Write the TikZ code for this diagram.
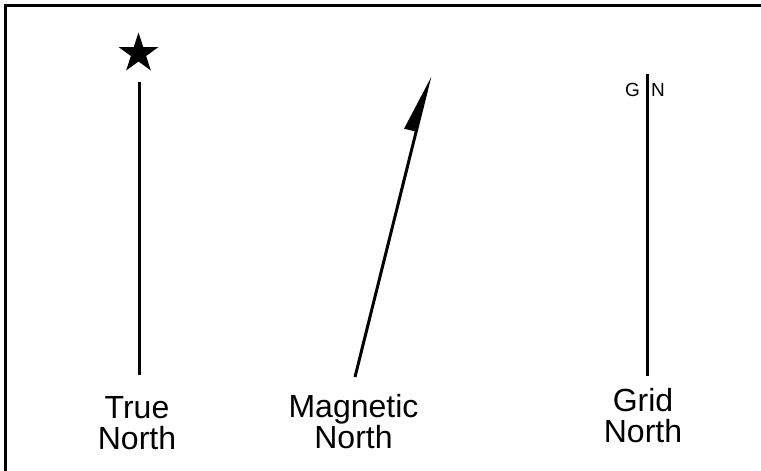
\documentclass[tikz,border=0pt]{standalone}
\usepackage{fontspec}
\setmainfont{Liberation Sans}
\usetikzlibrary{shapes.geometric, arrows.meta, positioning}

\begin{document}
\begin{tikzpicture}[
    x=1pt, y=-1pt,
    north_line/.style={line width=3pt, black},
    frame_line/.style={line width=3.2pt, black},
    label_node/.style={inner sep=0pt, align=center, anchor=north, font=\fontsize{32}{31}\selectfont},
    gn_node/.style={inner sep=0pt, font=\fontsize{19}{19}\selectfont},
    star_node/.style={star, star points=5, star point ratio=2.618, fill=black, minimum size=42pt, inner sep=0pt}
]
\useasboundingbox (0,0) rectangle (761,471);

% --- Frame ---
\draw[frame_line] (5.3,471) -- (5.3,5.8) -- (761,5.8);

% --- True North ---
\node[star_node] (star) at (138.5,53.5) {};
\coordinate (true_bot) at (139,375);
\coordinate (true_top) at (139,82);
\draw[north_line] (true_bot) -- (true_top);
\node[label_node] (true_label) at (137,396) {True\\North};

% --- Magnetic North ---
\coordinate (mag_bot) at (355,377);
\coordinate (mag_tip) at (430,76);
\draw[north_line, -{Triangle[left, length=51pt, width=24pt]}] (mag_bot) -- (mag_tip);
\node[label_node] (mag_label) at (353.5,394) {Magnetic\\North};

% --- Grid North ---
\coordinate (grid_bot) at (647.5,375.5);
\coordinate (grid_top) at (647.5,74);
\draw[north_line] (grid_bot) -- (grid_top);
\node[gn_node] (g_label) at (632.5,90) {G};
\node[gn_node] (n_label) at (658,90) {N};
\node[label_node] (grid_label) at (643,388) {Grid\\North};

\end{tikzpicture}
\end{document}
